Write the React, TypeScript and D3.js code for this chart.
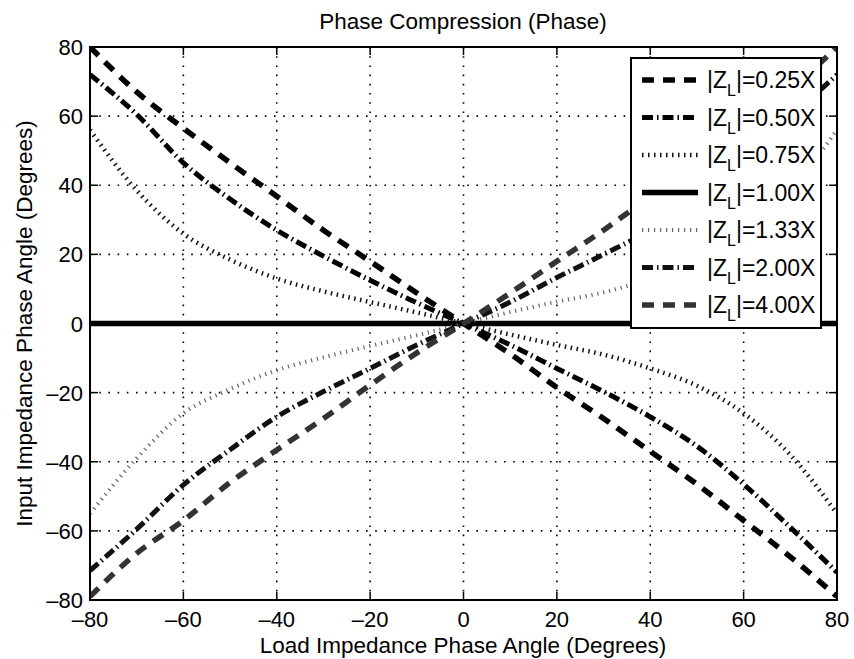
import React from "react";
import { scaleLinear, line, range, curveMonotoneX } from "d3";

// load impedance phase angle samples (degrees)
const loadPhase = [-80, -70, -60, -50, -40, -30, -20, -10, 0, 10, 20, 30, 40, 50, 60, 70, 80];

// input impedance phase angle, one array per |ZL| ratio
const z025 = [80, 67, 56.5, 46.5, 36.8, 27, 18, 8.8, 0, -8.8, -18.5, -27.5, -37, -46.5, -57, -67.5, -79];
const z050 = [72, 60.5, 46.5, 36, 27, 19.5, 12.5, 6, 0, -6.2, -13, -19.7, -27, -35.5, -46.5, -59, -72];
const z075 = [56, 38.5, 26, 18.5, 13, 9.3, 6.2, 3.2, 0, -3.2, -6.2, -9, -13, -18, -26, -38, -55];
const z100 = [0, 0, 0, 0, 0, 0, 0, 0, 0, 0, 0, 0, 0, 0, 0, 0, 0];
const z133 = [-55, -39, -26, -19, -13.5, -9.8, -6.5, -3.4, 0, 3.3, 6.3, 9, 13, 18.5, 26, 38.5, 56];
const z200 = [-71.5, -59.5, -46.7, -36.5, -27, -19.7, -13, -6.2, 0, 6.2, 13.3, 20, 27, 36, 46.5, 59.5, 72];
const z400 = [-79, -66.5, -57, -46, -36.6, -27.5, -17.8, -8.5, 0, 8.8, 18, 27, 36.8, 46.5, 57, 67.5, 80];

const seriesNames = ["0.25X", "0.50X", "0.75X", "1.00X", "1.33X", "2.00X", "4.00X"];
const seriesValues = [z025, z050, z075, z100, z133, z200, z400];

const xTicks = [-80, -60, -40, -20, 0, 20, 40, 60, 80];
const yTicks = [-80, -60, -40, -20, 0, 20, 40, 60, 80];

const styles = [
  { stroke: "#000", width: 5.5, dash: "12 9" },
  { stroke: "#000", width: 5, dash: "11 4 1.5 4" },
  { stroke: "#111", width: 4.5, dash: "1.5 4.5" },
  { stroke: "#000", width: 5.5, dash: "" },
  { stroke: "#666", width: 4, dash: "1.2 4.8" },
  { stroke: "#111", width: 5, dash: "11 4 1.5 4" },
  { stroke: "#333", width: 5.5, dash: "12 9" },
];

const W = 854,
  H = 659;
const left = 90,
  right = 837,
  top = 47,
  bottom = 600;
const font = "Liberation Sans, Arial, Helvetica, sans-serif";

export default function App() {
  const x = scaleLinear().domain([-80, 80]).range([left, right]);
  const y = scaleLinear().domain([-80, 80]).range([bottom, top]);

  const path = line<number>()
    .x((_, i) => x(loadPhase[i]))
    .y(d => y(d))
    .curve(curveMonotoneX);

  const legX = 631,
    legY = 58,
    legW = 190,
    legH = 270,
    rowH = 37.5;

  return (
    <svg
      width={W}
      height={H}
      style={{ position: "absolute", left: 0, top: 0, background: "#fff" }}
      fontFamily={font}
    >
      <defs>
        <clipPath id="plot">
          <rect x={left} y={top} width={right - left} height={bottom - top} />
        </clipPath>
      </defs>

      {/* grid */}
      {xTicks.slice(1, -1).map(t => (
        <line key={"gx" + t} x1={x(t)} x2={x(t)} y1={top} y2={bottom}
          stroke="#000" strokeWidth={1.6} strokeDasharray="1.6 7.6" />
      ))}
      {yTicks.slice(1, -1).map(t => (
        <line key={"gy" + t} x1={left} x2={right} y1={y(t)} y2={y(t)}
          stroke="#000" strokeWidth={1.6} strokeDasharray="1.6 7.6" />
      ))}

      {/* series */}
      <g clipPath="url(#plot)">
        {seriesValues.map((vals, i) => (
          <path key={seriesNames[i]} d={path(vals) || ""} fill="none"
            stroke={styles[i].stroke} strokeWidth={styles[i].width}
            strokeDasharray={styles[i].dash || undefined} />
        ))}
      </g>

      {/* box + inner ticks */}
      <rect x={left} y={top} width={right - left} height={bottom - top}
        fill="none" stroke="#000" strokeWidth={2} />
      {xTicks.map(t => (
        <g key={"tx" + t}>
          <line x1={x(t)} x2={x(t)} y1={bottom} y2={bottom - 8} stroke="#000" strokeWidth={1.5} />
          <line x1={x(t)} x2={x(t)} y1={top} y2={top + 8} stroke="#000" strokeWidth={1.5} />
          <text x={x(t)} y={627} fontSize={22} textAnchor="middle">
            {t < 0 ? "\u2013" + Math.abs(t) : t}
          </text>
        </g>
      ))}
      {yTicks.map(t => (
        <g key={"ty" + t}>
          <line x1={left} x2={left + 8} y1={y(t)} y2={y(t)} stroke="#000" strokeWidth={1.5} />
          <line x1={right} x2={right - 8} y1={y(t)} y2={y(t)} stroke="#000" strokeWidth={1.5} />
          <text x={83} y={y(t) + 8} fontSize={22} textAnchor="end">
            {t < 0 ? "\u2013" + Math.abs(t) : t}
          </text>
        </g>
      ))}

      {/* titles */}
      <text x={463} y={29} fontSize={22.5} textAnchor="middle">Phase Compression (Phase)</text>
      <text x={463} y={653} fontSize={22.5} textAnchor="middle">Load Impedance Phase Angle (Degrees)</text>
      <text transform={`translate(32, ${(top + bottom) / 2}) rotate(-90)`} fontSize={22.5} textAnchor="middle">
        Input Impedance Phase Angle (Degrees)
      </text>

      {/* legend */}
      <rect x={legX} y={legY} width={legW} height={legH} fill="#fff" stroke="#000" strokeWidth={2} />
      {range(seriesNames.length).map(i => {
        const cy = legY + 22 + i * rowH;
        return (
          <g key={"leg" + i}>
            <line x1={642} x2={698} y1={cy} y2={cy} stroke={styles[i].stroke}
              strokeWidth={styles[i].width} strokeDasharray={styles[i].dash || undefined} />
            <text x={707} y={cy + 8} fontSize={23}>
              |Z<tspan fontSize={16} dy={8}>L</tspan>
              <tspan dy={-8}>|={seriesNames[i]}</tspan>
            </text>
          </g>
        );
      })}
    </svg>
  );
}
